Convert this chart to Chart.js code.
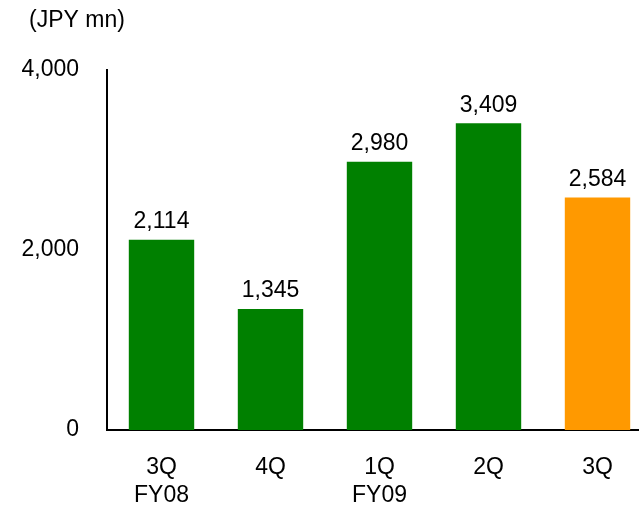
<!DOCTYPE html>
<html>
<head>
<meta charset="utf-8">
<script src="https://cdn.jsdelivr.net/npm/chart.js@4/dist/chart.umd.min.js"></script>
<style>
  html, body { margin: 0; padding: 0; overflow: hidden; background: #fff; }
  #wrap { width: 652px; height: 509px; }
</style>
</head>
<body>
<div id="wrap"><canvas id="c" width="652" height="509"></canvas></div>
<script>
const categories = [['3Q', 'FY08'], ['4Q'], ['1Q', 'FY09'], ['2Q'], ['3Q']];
const values = [2114, 1345, 2980, 3409, 2584];
const barColors = ['#008000', '#008000', '#008000', '#008000', '#FF9900'];
const yTicks = [0, 2000, 4000];
const unitLabel = '(JPY mn)';

const FONT = 'Liberation Sans, Arial, sans-serif';
const FONT_SIZE = 23;

const valueLabels = {
  id: 'valueLabels',
  afterDatasetsDraw(chart) {
    const ctx = chart.ctx;
    const meta = chart.getDatasetMeta(0);
    ctx.save();
    ctx.font = FONT_SIZE + 'px ' + FONT;
    ctx.fillStyle = '#000';
    ctx.textAlign = 'center';
    ctx.textBaseline = 'middle';
    meta.data.forEach((bar, i) => {
      ctx.fillText(values[i].toLocaleString('en-US'), bar.x, bar.y - 18);
    });
    ctx.restore();
  }
};

const unitTitle = {
  id: 'unitTitle',
  afterDraw(chart) {
    const ctx = chart.ctx;
    ctx.save();
    ctx.font = FONT_SIZE + 'px ' + FONT;
    ctx.fillStyle = '#000';
    ctx.textAlign = 'left';
    ctx.textBaseline = 'middle';
    ctx.fillText(unitLabel, 29, 21);
    ctx.restore();
  }
};

new Chart(document.getElementById('c'), {
  type: 'bar',
  data: {
    labels: categories,
    datasets: [{
      data: values,
      backgroundColor: barColors,
      borderWidth: 0,
      categoryPercentage: 1,
      barPercentage: 0.6
    }]
  },
  options: {
    responsive: false,
    devicePixelRatio: 1,
    animation: false,
    layout: { padding: { top: 70, left: 0, right: 0, bottom: 0 } },
    plugins: { legend: { display: false }, tooltip: { enabled: false } },
    scales: {
      x: {
        grid: { display: false, drawTicks: false },
        border: { display: true, color: '#000', width: 2 },
        ticks: {
          color: '#000',
          font: { family: FONT, size: FONT_SIZE, lineHeight: 1.22 },
          padding: 24,
          maxRotation: 0,
          autoSkip: false
        },
        afterFit(scale) { scale.height = 79; }
      },
      y: {
        min: 0,
        max: 4000,
        afterBuildTicks(scale) { scale.ticks = yTicks.map(v => ({ value: v })); },
        grid: { display: false, drawTicks: false },
        border: { display: true, color: '#000', width: 2 },
        ticks: {
          color: '#000',
          font: { family: FONT, size: FONT_SIZE },
          padding: 28,
          callback: v => v.toLocaleString('en-US')
        },
        afterFit(scale) { scale.width = 107; }
      }
    }
  },
  plugins: [valueLabels, unitTitle]
});
</script>
</body>
</html>
